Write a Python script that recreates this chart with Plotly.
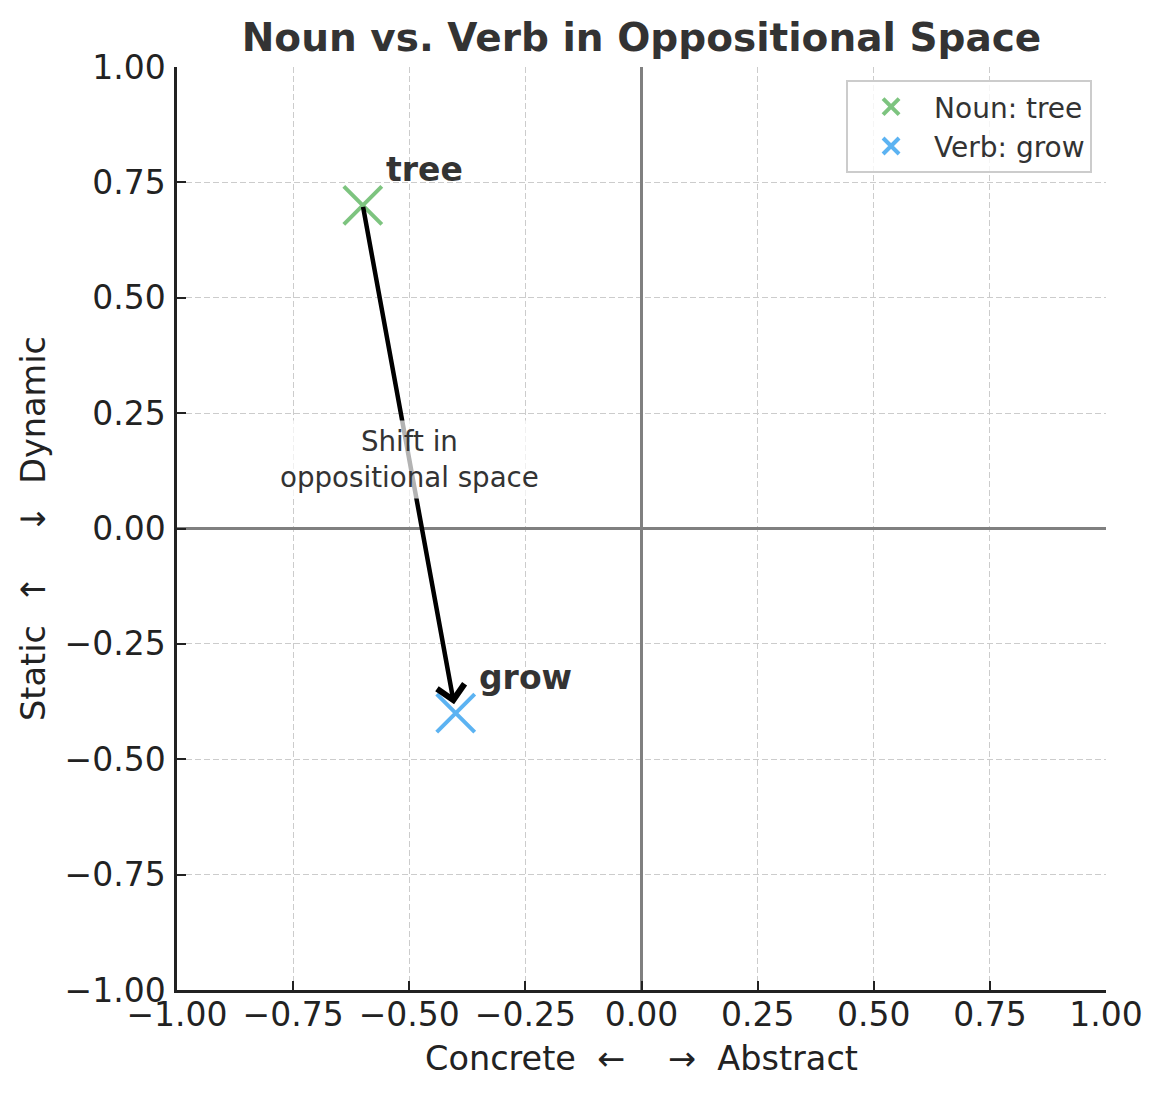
import plotly.graph_objects as go

# ---- data ----
words = ["tree", "grow"]
legend_names = ["Noun: tree", "Verb: grow"]
x_vals = [-0.6, -0.4]
y_vals = [0.7, -0.4]
point_colors = ["#7dc47f", "#5cb3f2"]
label_dx = 0.05
label_dy = 0.05
shift_text = "Shift in<br>oppositional space"
shift_pos = [-0.5, 0.15]
tick_vals = [-1.0, -0.75, -0.5, -0.25, 0.0, 0.25, 0.5, 0.75, 1.0]
title_text = "Noun vs. Verb in Oppositional Space"
nb = "\u00a0"
x_title = f"Concrete{nb*2}←{nb*4}→{nb*2}Abstract"
y_title = f"Static{nb*2}↑{nb*4}↓{nb*2}Dynamic"

FONT = "DejaVu Sans"

fig = go.Figure()
for i in range(len(words)):
    fig.add_trace(go.Scatter(
        x=[x_vals[i]], y=[y_vals[i]], mode="markers", name=legend_names[i],
        marker=dict(symbol="x-thin", size=38, color=point_colors[i],
                    line=dict(width=4, color=point_colors[i])),
    ))

annotations = []
# arrow from noun to verb
annotations.append(dict(
    x=x_vals[1], y=y_vals[1], ax=x_vals[0], ay=y_vals[0],
    xref="x", yref="y", axref="x", ayref="y",
    showarrow=True, arrowhead=4, arrowsize=1.2, arrowwidth=4.5,
    arrowcolor="black", standoff=9, startstandoff=0, text="",
))
for i in range(len(words)):
    annotations.append(dict(
        x=x_vals[i] + label_dx, y=y_vals[i] + label_dy, xref="x", yref="y",
        text=f"<b>{words[i]}</b>", showarrow=False, xanchor="left", yanchor="bottom",
        yshift=-9, xshift=-2,
        font=dict(family=FONT, size=33, color="#333333"),
    ))
annotations.append(dict(
    x=shift_pos[0], y=shift_pos[1], xref="x", yref="y", text=shift_text,
    showarrow=False, xanchor="center", yanchor="middle",
    bgcolor="rgba(255,255,255,0.7)", borderpad=4,
    font=dict(family=FONT, size=27.7, color="#333333"),
))

axis_common = dict(
    range=[-1, 1], tickvals=tick_vals, tickformat=".2f",
    showgrid=True, gridcolor="#cccccc", griddash="6px,3px", gridwidth=1.2,
    zeroline=True, zerolinecolor="#808080", zerolinewidth=2.6,
    showline=True, linecolor="#222222", linewidth=2.5, mirror=False,
    ticks="inside", ticklen=9, tickwidth=2.2, tickcolor="#222222",
    tickfont=dict(family=FONT, size=33, color="#222222"),
)

fig.update_layout(
    width=1163, height=1097,
    margin=dict(l=177, r=57, t=67, b=107),
    paper_bgcolor="white", plot_bgcolor="white",
    font=dict(family=FONT, color="#222222"),
    title=dict(text=f"<b>{title_text}</b>", x=0.5516, xanchor="center",
               y=0.966, yanchor="middle",
               font=dict(family=FONT, size=39, color="#333333")),
    xaxis=dict(**axis_common, ticklabelstandoff=-6,
               title=dict(text=x_title, standoff=14,
                          font=dict(family=FONT, size=33.5, color="#222222"))),
    yaxis=dict(**axis_common, ticklabelstandoff=2,
               title=dict(text=y_title, standoff=9,
                          font=dict(family=FONT, size=33.5, color="#222222"))),
    legend=dict(x=0.985, y=0.986, xanchor="right", yanchor="top",
                bgcolor="rgba(255,255,255,0.8)", bordercolor="#cccccc", borderwidth=2,
                itemwidth=76,
                font=dict(family=FONT, size=28, color="#333333")),
    annotations=annotations,
    showlegend=True,
)

fig.write_html("out.html", config={"displayModeBar": False},
               post_script="document.body.style.margin='0';")
